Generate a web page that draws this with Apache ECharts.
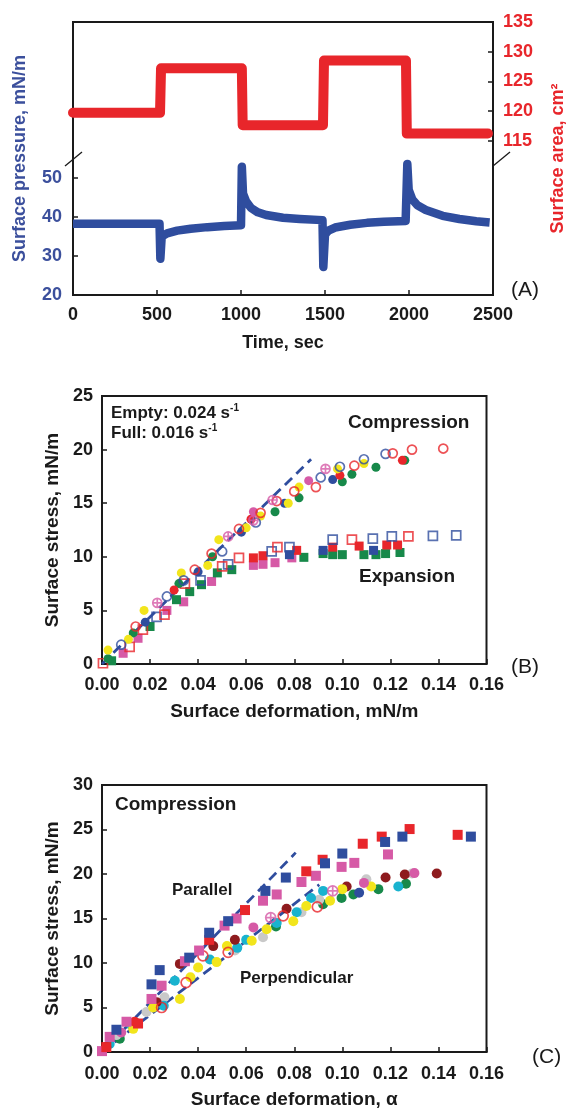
<!DOCTYPE html>
<html>
<head>
<meta charset="utf-8">
<script src="https://cdn.jsdelivr.net/npm/echarts@6/dist/echarts.min.js"></script>
<style>
  html, body { margin: 0; padding: 0; background: #fff; }
  #chart { width: 575px; height: 1110px; }
</style>
</head>
<body>
<div id="chart"></div>
<script>
// ---------- Panel A: surface pressure and surface area over time ----------
const timeTicks = [0, 500, 1000, 1500, 2000, 2500];
const pressureTicks = [20, 30, 40, 50];
const areaTicks = [115, 120, 125, 130, 135];

// [time (s), surface pressure (mN/m)]
const pressureCurve = [
  [0, 38.3], [515, 38.3], [520, 29.3], [528, 35.0], [560, 35.8], [620, 36.5],
  [700, 37.0], [800, 37.4], [900, 37.7], [1000, 37.9], [1005, 52.9], [1012, 46.0],
  [1030, 44.0], [1060, 42.3], [1100, 41.2], [1150, 40.5], [1250, 39.8], [1350, 39.5],
  [1485, 39.2], [1490, 27.2], [1500, 35.5], [1520, 36.5], [1560, 37.3], [1650, 38.0],
  [1750, 38.5], [1850, 38.8], [1980, 39.0], [1990, 53.6], [1998, 47.0], [2020, 44.5],
  [2050, 43.0], [2100, 41.8], [2200, 40.3], [2300, 39.5], [2400, 38.9], [2480, 38.6]
];

// [time (s), surface area (cm^2)]
const areaCurve = [
  [0, 119.7], [518, 119.7], [524, 127.2], [1005, 127.2], [1010, 117.6],
  [1488, 117.6], [1494, 128.5], [1982, 128.5], [1987, 116.2], [2470, 116.2]
];

// ---------- Panel B: surface stress vs deformation (compression / expansion) ----------
const deformTicks = [0, 0.02, 0.04, 0.06, 0.08, 0.10, 0.12, 0.14, 0.16];
const stressTicksB = [0, 5, 10, 15, 20, 25];
const stressTicksC = [0, 5, 10, 15, 20, 25, 30];

const bFitLine = [[0, 0], [0.087, 19.1]];

// compression (circles)
const bCompOpenBlue = [[0.008, 1.8], [0.027, 6.3], [0.034, 7.8], [0.050, 10.5], [0.064, 13.2], [0.091, 17.4], [0.099, 18.4], [0.109, 19.1], [0.118, 19.6]];
const bCompOpenRed = [[0.014, 3.5], [0.0386, 8.8], [0.0456, 10.3], [0.057, 12.6], [0.066, 14.1], [0.0727, 15.2], [0.080, 16.1], [0.089, 16.5], [0.105, 18.5], [0.121, 19.65], [0.129, 20.0], [0.142, 20.1]];
const bCompCrossPink = [[0.023, 5.7], [0.0525, 11.9], [0.063, 13.4], [0.071, 15.3], [0.093, 18.2]];
const bCompYellow = [[0.0025, 1.3], [0.011, 2.3], [0.0175, 5.0], [0.033, 8.5], [0.044, 9.2], [0.0486, 11.6], [0.060, 12.7], [0.066, 13.8], [0.0775, 15.0], [0.082, 16.5], [0.098, 18.2], [0.109, 18.7]];
const bCompGreen = [[0.0025, 0.5], [0.013, 2.9], [0.032, 7.5], [0.046, 10.0], [0.072, 14.2], [0.082, 15.5], [0.100, 17.0], [0.104, 17.7], [0.114, 18.35], [0.126, 19.0]];
const bCompBlue = [[0.018, 3.9], [0.040, 8.6], [0.058, 12.3], [0.076, 15.0], [0.096, 17.2]];
const bCompRed = [[0.030, 6.9], [0.062, 13.5], [0.099, 17.6], [0.125, 19.0]];
const bCompPink = [[0.063, 14.2], [0.086, 17.1]];

// expansion (squares)
const bExpOpenRed = [[0.0004, 0.07], [0.0115, 1.6], [0.017, 3.2], [0.026, 4.6], [0.0345, 7.5], [0.050, 9.1], [0.057, 9.9], [0.073, 10.9], [0.104, 11.6], [0.1275, 11.9]];
const bExpOpenBlue = [[0.0227, 4.4], [0.041, 7.8], [0.0525, 9.3], [0.0706, 10.5], [0.078, 10.9], [0.096, 11.6], [0.1127, 11.7], [0.1206, 11.9], [0.1377, 11.95], [0.1474, 12.0]];
const bExpGreen = [[0.004, 0.3], [0.020, 3.5], [0.031, 6.0], [0.0365, 6.75], [0.0414, 7.4], [0.048, 8.5], [0.054, 8.8], [0.084, 9.95], [0.092, 10.3], [0.096, 10.2], [0.100, 10.2], [0.109, 10.2], [0.114, 10.2], [0.118, 10.3], [0.124, 10.4]];
const bExpPink = [[0.0088, 1.0], [0.015, 2.4], [0.027, 5.0], [0.034, 5.8], [0.0456, 7.7], [0.063, 9.2], [0.067, 9.3], [0.072, 9.45], [0.079, 9.9]];
const bExpRed = [[0.063, 9.9], [0.067, 10.1], [0.081, 10.6], [0.096, 10.9], [0.107, 11.0], [0.1185, 11.1], [0.123, 11.1]];
const bExpBlue = [[0.078, 10.2], [0.092, 10.6], [0.113, 10.6]];

// ---------- Panel C: parallel vs perpendicular compression ----------
const cFitParallel = [[0, 0], [0.0806, 22.4]];
const cFitPerpendicular = [[0, 0], [0.0904, 18.8]];

// parallel (squares)
const cParBlue = [[0.006, 2.5], [0.0206, 7.6], [0.024, 9.2], [0.0363, 10.6], [0.0446, 13.4], [0.0525, 14.7], [0.068, 18.1], [0.0765, 19.6], [0.0928, 21.2], [0.100, 22.3], [0.1178, 23.6], [0.125, 24.2], [0.1535, 24.2]];
const cParRed = [[0.0018, 0.55], [0.015, 3.2], [0.0446, 12.6], [0.0595, 15.95], [0.085, 20.3], [0.0918, 21.6], [0.1085, 23.4], [0.1164, 24.2], [0.128, 25.05], [0.148, 24.4]];
const cParPink = [[0, 0.1], [0.0032, 1.7], [0.0102, 3.4], [0.0206, 5.96], [0.0248, 7.45], [0.0345, 10.2], [0.0404, 11.4], [0.051, 14.2], [0.056, 15.0], [0.067, 17.0], [0.0727, 17.7], [0.083, 19.1], [0.089, 19.8], [0.0997, 20.8], [0.105, 21.25], [0.119, 22.2]];

// perpendicular (circles)
const cPerDarkRed = [[0.0018, 0.55], [0.0227, 5.6], [0.0324, 9.9], [0.0463, 11.9], [0.0553, 12.6], [0.0768, 16.1], [0.1018, 18.6], [0.118, 19.6], [0.126, 19.95], [0.1393, 20.05]];
const cPerCyan = [[0.0032, 0.9], [0.0122, 3.0], [0.0257, 5.2], [0.0303, 8.0], [0.0449, 10.4], [0.0563, 11.7], [0.060, 12.6], [0.0727, 14.5], [0.081, 15.7], [0.087, 17.3], [0.092, 18.1], [0.1233, 18.6]];
const cPerYellow = [[0.013, 2.6], [0.0213, 5.0], [0.0324, 5.96], [0.0368, 8.4], [0.040, 9.5], [0.0477, 10.1], [0.052, 11.9], [0.0623, 12.5], [0.0685, 13.8], [0.0796, 14.7], [0.085, 16.4], [0.0949, 17.0], [0.100, 18.3], [0.112, 18.6]];
const cPerGray = [[0.006, 1.9], [0.0185, 4.5], [0.026, 6.15], [0.0553, 11.4], [0.067, 12.9], [0.083, 15.7], [0.0904, 17.1], [0.110, 19.4], [0.129, 20.05]];
const cPerGreen = [[0.0074, 1.5], [0.0724, 14.1], [0.092, 16.6], [0.0997, 17.3], [0.1046, 17.7], [0.115, 18.3], [0.1265, 18.9]];
const cPerOpenRed = [[0.0248, 5.0], [0.035, 7.8], [0.042, 10.8], [0.0525, 11.2], [0.0754, 15.3], [0.0896, 16.3]];
const cPerCrossPink = [[0.0702, 15.1], [0.096, 18.1]];
const cPerPink = [[0.008, 2.2], [0.063, 14.0], [0.109, 19.0], [0.130, 20.1]];
const cPerBlue = [[0.107, 17.9]];
const cPerRed = [[0.0136, 3.4]];

// ---------- styling ----------
const FONT = '"Liberation Sans", Arial, Helvetica, sans-serif';
const INK = '#1a1a1a';
const BLUE = '#2f4d9e';
const BLUE_TXT = '#3b4f9c';
const RED = '#e8262b';
const PINK = '#d65aa6';
const GREEN = '#17894a';
const YELLOW = '#f2e51c';
const CYAN = '#19b3cf';
const GRAY = '#c9c9c9';
const DARKRED = '#8e1b1e';
const CROSS_CIRCLE = 'path://M10,5A5,5,0,1,1,0,5A5,5,0,1,1,10,5ZM0,5L10,5M5,0L5,10';
const SIZE_B = 9;
const SIZE_C = 10;

function scatter(axis, data, symbol, color, size, open) {
  return {
    type: 'scatter', xAxisIndex: axis, yAxisIndex: axis + 1,
    data: data, symbol: symbol, symbolSize: size,
    itemStyle: open
      ? { color: 'rgba(255,255,255,0)', borderColor: color, borderWidth: 1.7 }
      : { color: color, opacity: 1 },
    emphasis: { disabled: true }, silent: true
  };
}

function dashed(axis, data) {
  return {
    type: 'line', xAxisIndex: axis, yAxisIndex: axis + 1, data: data,
    showSymbol: false, silent: true,
    lineStyle: { color: BLUE, width: 2.8, type: [10, 6] },
    emphasis: { disabled: true }, z: 1
  };
}

function deformAxis(grid, name, gap, labelMargin) {
  return {
    type: 'value', gridIndex: grid, min: deformTicks[0], max: deformTicks[deformTicks.length - 1], interval: 0.02,
    axisLine: { lineStyle: { color: INK, width: 2 } },
    axisTick: { inside: true, length: 5, lineStyle: { color: INK, width: 1.5 } },
    axisLabel: {
      margin: labelMargin, color: INK, fontFamily: FONT, fontWeight: 'bold', fontSize: 18,
      formatter: v => v.toFixed(2)
    },
    splitLine: { show: false },
    name: name, nameLocation: 'middle', nameGap: gap,
    nameTextStyle: { color: INK, fontFamily: FONT, fontWeight: 'bold', fontSize: 19 }
  };
}

function stressAxis(grid, ticks) {
  return {
    type: 'value', gridIndex: grid, min: ticks[0], max: ticks[ticks.length - 1], interval: 5,
    axisLine: { lineStyle: { color: INK, width: 2 } },
    axisTick: { inside: true, length: 5, lineStyle: { color: INK, width: 1.5 } },
    axisLabel: { margin: 9, color: INK, fontFamily: FONT, fontWeight: 'bold', fontSize: 18 },
    splitLine: { show: false },
    name: 'Surface stress, mN/m', nameLocation: 'middle', nameGap: 39,
    nameTextStyle: { color: INK, fontFamily: FONT, fontWeight: 'bold', fontSize: 19 }
  };
}

function label(text, x, y, size, weight) {
  return {
    type: 'text', x: x, y: y, silent: true,
    style: {
      text: text, fill: INK, font: (weight || 'bold') + ' ' + size + 'px ' + FONT,
      textAlign: 'left', textVerticalAlign: 'middle'
    }
  };
}

function rateLabel(text, x, y) {
  return {
    type: 'text', x: x, y: y, silent: true,
    style: {
      text: text, fill: INK, font: 'bold 17px ' + FONT,
      textAlign: 'left', textVerticalAlign: 'middle',
      rich: { sup: { fontSize: 10, fontWeight: 'bold', fontFamily: FONT, fill: INK, verticalAlign: 'top', lineHeight: 20 } }
    }
  };
}

const gridStyle = { show: true, borderColor: INK, borderWidth: 2, backgroundColor: 'transparent' };

const option = {
  animation: false,
  backgroundColor: '#ffffff',
  grid: [
    Object.assign({ left: 73, top: 22, width: 428, height: 273 }, gridStyle),
    Object.assign({ left: 102, top: 396, width: 384.5, height: 268 }, gridStyle),
    Object.assign({ left: 102, top: 785, width: 384.5, height: 268 }, gridStyle)
  ],
  xAxis: [
    {
      type: 'value', gridIndex: 0, min: timeTicks[0], max: timeTicks[timeTicks.length - 1], interval: 500,
      axisLine: { lineStyle: { color: INK, width: 2 } },
      axisTick: { inside: true, length: 5, lineStyle: { color: INK, width: 1.5 } },
      axisLabel: {
        margin: 11, color: INK, fontFamily: FONT, fontWeight: 'bold', fontSize: 18,
        formatter: v => String(v)
      },
      splitLine: { show: false },
      name: 'Time, sec', nameLocation: 'middle', nameGap: 39,
      nameTextStyle: { color: INK, fontFamily: FONT, fontWeight: 'bold', fontSize: 18 }
    },
    deformAxis(1, 'Surface deformation, mN/m', 38, 12),
    deformAxis(2, 'Surface deformation, α', 38, 13)
  ],
  yAxis: [
    {
      type: 'value', gridIndex: 0, min: 20, max: 90, position: 'left',
      axisLine: { lineStyle: { color: INK, width: 2 } },
      axisTick: { inside: true, length: 5, customValues: pressureTicks, lineStyle: { color: INK, width: 1.5 } },
      axisLabel: { margin: 11, customValues: pressureTicks, color: BLUE_TXT, fontFamily: FONT, fontWeight: 'bold', fontSize: 18 },
      splitLine: { show: false },
      name: 'Surface pressure, mN/m', nameLocation: 'middle', nameGap: 44,
      nameTextStyle: { color: BLUE_TXT, fontFamily: FONT, fontWeight: 'bold', fontSize: 18 }
    },
    {
      type: 'value', gridIndex: 0, min: 89, max: 135, position: 'right',
      axisLine: { lineStyle: { color: INK, width: 2 } },
      axisTick: { inside: true, length: 5, customValues: areaTicks, lineStyle: { color: INK, width: 1.5 } },
      axisLabel: { margin: 10, customValues: areaTicks, color: RED, fontFamily: FONT, fontWeight: 'bold', fontSize: 18 },
      splitLine: { show: false },
      name: 'Surface area, cm²', nameLocation: 'middle', nameGap: 56,
      nameTextStyle: { color: RED, fontFamily: FONT, fontWeight: 'bold', fontSize: 18 }
    },
    stressAxis(1, stressTicksB),
    stressAxis(2, stressTicksC)
  ],
  series: [
    // Panel A
    {
      type: 'line', xAxisIndex: 0, yAxisIndex: 1, data: areaCurve, showSymbol: false, clip: false,
      lineStyle: { color: RED, width: 10, cap: 'round', join: 'round' }, silent: true, emphasis: { disabled: true }
    },
    {
      type: 'line', xAxisIndex: 0, yAxisIndex: 0, data: pressureCurve, showSymbol: false, clip: false,
      lineStyle: { color: BLUE, width: 8.5, cap: 'butt', join: 'round' }, silent: true, emphasis: { disabled: true }
    },

    // Panel B — expansion (squares)
    scatter(1, bExpPink, 'rect', PINK, SIZE_B, false),
    scatter(1, bExpGreen, 'rect', GREEN, SIZE_B, false),
    scatter(1, bExpRed, 'rect', RED, SIZE_B, false),
    scatter(1, bExpBlue, 'rect', BLUE, SIZE_B, false),
    scatter(1, bExpOpenBlue, 'rect', BLUE, SIZE_B, true),
    scatter(1, bExpOpenRed, 'rect', RED, SIZE_B, true),
    // Panel B — compression (circles)
    scatter(1, bCompGreen, 'circle', GREEN, SIZE_B, false),
    scatter(1, bCompBlue, 'circle', BLUE, SIZE_B, false),
    scatter(1, bCompRed, 'circle', RED, SIZE_B, false),
    scatter(1, bCompPink, 'circle', PINK, SIZE_B, false),
    scatter(1, bCompYellow, 'circle', YELLOW, SIZE_B, false),
    scatter(1, bCompOpenBlue, 'circle', BLUE, SIZE_B, true),
    scatter(1, bCompOpenRed, 'circle', RED, SIZE_B, true),
    scatter(1, bCompCrossPink, CROSS_CIRCLE, PINK, SIZE_B, true),
    dashed(1, bFitLine),

    // Panel C — perpendicular (circles)
    scatter(2, cPerGreen, 'circle', GREEN, SIZE_C, false),
    scatter(2, cPerGray, 'circle', GRAY, SIZE_C, false),
    scatter(2, cPerCyan, 'circle', CYAN, SIZE_C, false),
    scatter(2, cPerDarkRed, 'circle', DARKRED, SIZE_C, false),
    scatter(2, cPerYellow, 'circle', YELLOW, SIZE_C, false),
    scatter(2, cPerPink, 'circle', PINK, SIZE_C, false),
    scatter(2, cPerBlue, 'circle', BLUE, SIZE_C, false),
    scatter(2, cPerRed, 'circle', RED, SIZE_C, false),
    scatter(2, cPerOpenRed, 'circle', RED, SIZE_C, true),
    scatter(2, cPerCrossPink, CROSS_CIRCLE, PINK, SIZE_C, true),
    // Panel C — parallel (squares)
    scatter(2, cParPink, 'rect', PINK, SIZE_C, false),
    scatter(2, cParRed, 'rect', RED, SIZE_C, false),
    scatter(2, cParBlue, 'rect', BLUE, SIZE_C, false),
    dashed(2, cFitParallel),
    dashed(2, cFitPerpendicular)
  ],
  graphic: [
    // axis break marks in panel A
    { type: 'line', silent: true, shape: { x1: 65, y1: 166, x2: 82, y2: 152 }, style: { stroke: INK, lineWidth: 1.3 } },
    { type: 'line', silent: true, shape: { x1: 493, y1: 166, x2: 510, y2: 152 }, style: { stroke: INK, lineWidth: 1.3 } },

    // panel letters
    label('(A)', 511, 290, 21, 'normal'),
    label('(B)', 511, 667, 21, 'normal'),
    label('(C)', 532, 1057, 21, 'normal'),

    // panel B annotations
    rateLabel('Empty: 0.024 s{sup|-1}', 111, 413),
    rateLabel('Full: 0.016 s{sup|-1}', 111, 433),
    label('Compression', 348, 423, 19),
    label('Expansion', 359, 577, 19),

    // panel C annotations
    label('Compression', 115, 805, 19),
    label('Parallel', 172, 890, 17),
    label('Perpendicular', 240, 978, 17)
  ]
};

const chart = echarts.init(document.getElementById('chart'), null, { renderer: 'canvas' });
chart.setOption(option);
</script>
</body>
</html>
